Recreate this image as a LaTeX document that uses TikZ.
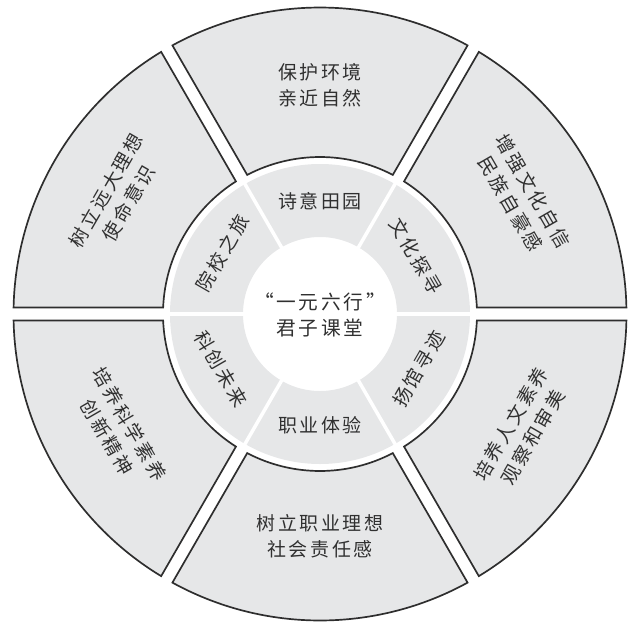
\documentclass[tikz,border=0pt]{standalone}
\usepackage{fontspec}
\setmainfont[LetterSpace=14]{Noto Sans CJK SC}
\definecolor{secfill}{HTML}{E6E7E8}
\definecolor{secline}{HTML}{2E2E2E}
\definecolor{txtcol}{HTML}{303030}
\tikzset{
  outsec/.style={fill=secfill, draw=secline, line width=1.2pt, line join=miter},
  lbl/.style={align=center, text=txtcol, inner sep=0pt, font=\fontsize{13.5}{18.5}\selectfont},
  midlbl/.style={lbl},
  ctrlbl/.style={lbl, font=\fontsize{14}{19}\selectfont}
}
\begin{document}
\begin{tikzpicture}[x=0.025cm, y=0.025cm]
\useasboundingbox (-320,-313) rectangle (310,314);
% outer sectors
\foreach \a in {0,60,...,300}{
  \pgfmathsetmacro{\sa}{\a+2.373}
  \pgfmathsetmacro{\sb}{\a+1.215}
  \pgfmathsetmacro{\ea}{\a+60-1.215}
  \pgfmathsetmacro{\eb}{\a+60-2.373}
  \draw[outsec] (\sa:157) -- (\sb:306.5) arc[start angle=\sb, end angle=\ea, radius=306.5]
     -- (\eb:157) arc[start angle=\eb, end angle=\sa, radius=157] -- cycle;
}
% inner ring
\fill[secfill, even odd rule] (0,0) circle[radius=150] (0,0) circle[radius=77];
\foreach \a in {0,60,...,300}{
  \draw[white, line width=2.5pt] (\a:75) -- (\a:152);
}
% outer labels
\node[lbl] (o90) at (90:229) {保护环境\\亲近自然};
\node[lbl, rotate=-60] (o30) at (30:233) {增强文化自信\\民族自豪感};
\node[lbl, rotate=60] (o330) at (-30:233) {培养人文素养\\观察和审美};
\node[lbl] (o270) at (270:222) {树立职业理想\\社会责任感};
\node[lbl, rotate=-60] (o210) at (210:233) {培养科学素养\\创新精神};
\node[lbl, rotate=60] (o150) at (150:234) {树立远大理想\\使命意识};
% inner labels
\node[midlbl] (i90) at (90:113) {诗意田园};
\node[midlbl, rotate=-60] (i30) at (31:112) {文化探寻};
\node[midlbl, rotate=60] (i330) at (-29:113) {扬馆寻迹};
\node[midlbl] (i270) at (270:111) {职业体验};
\node[midlbl, rotate=-60] (i210) at (209:113) {科创未来};
\node[midlbl, rotate=60] (i150) at (148:115) {院校之旅};
% centre
\node[ctrlbl] (c) at (0,-1) {“一元六行”\\君子课堂};
\end{tikzpicture}
\end{document}
